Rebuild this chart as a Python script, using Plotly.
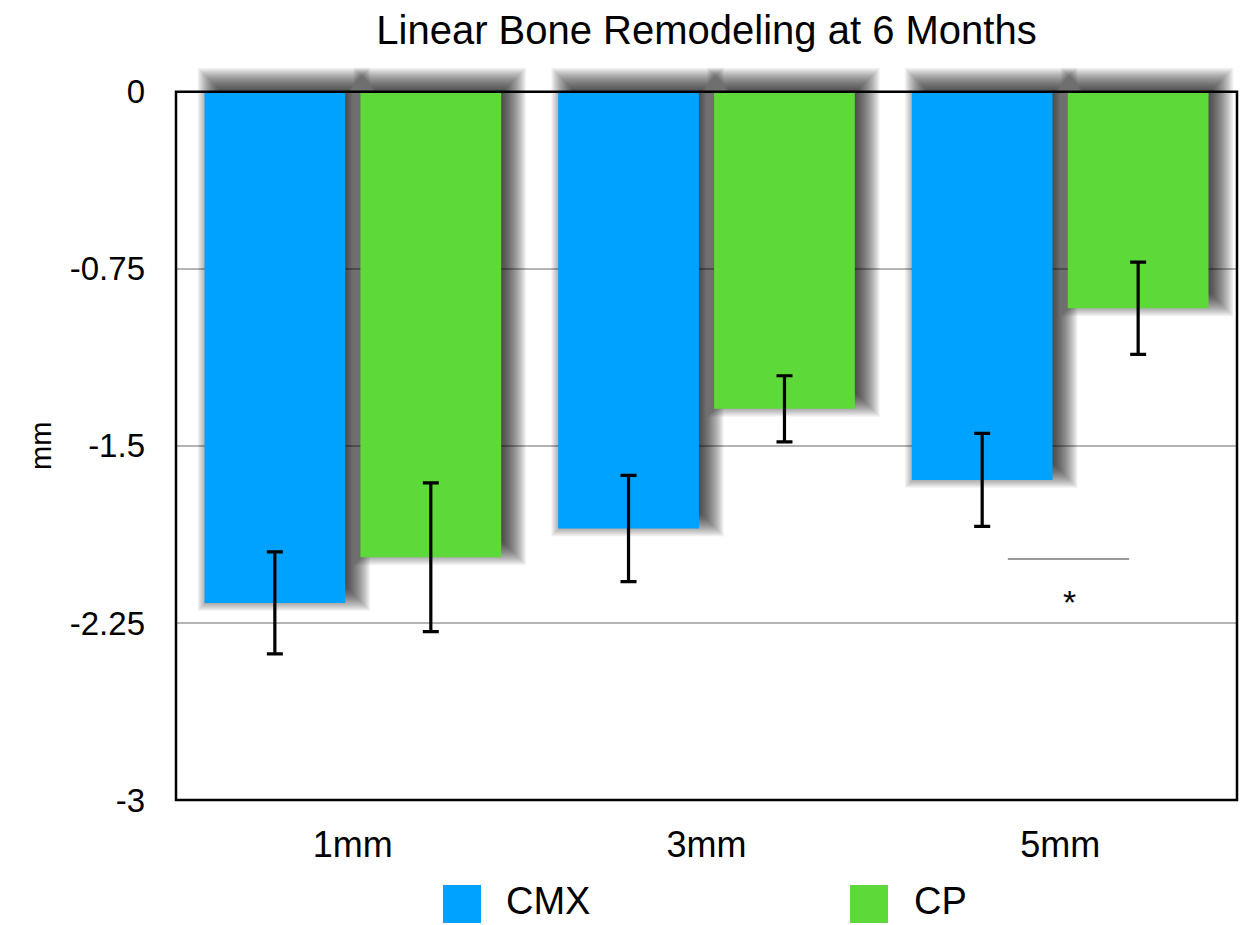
import plotly.graph_objects as go

# ---- data ----
categories = ["1mm", "3mm", "5mm"]
cmx_values = [-2.165, -1.850, -1.644]
cmx_errors = [0.216, 0.225, 0.197]
cp_values = [-1.972, -1.343, -0.917]
cp_errors = [0.315, 0.140, 0.195]
y_tickvals = [0, -0.75, -1.5, -2.25, -3]
y_ticktext = ["0", "-0.75", "-1.5", "-2.25", "-3"]

# ---- layout constants ----
W, H = 1240, 925
Y_MIN, Y_MAX = -3.0, 0.16
X_MIN, X_MAX = -0.5, 2.5
PX_PER_Y = 236.0
ML, MR, MB = 176, 3, 125
MT = int(round(92 - Y_MAX * PX_PER_Y))
PW = W - ML - MR
PH = H - MT - MB
PX_X = (X_MAX - X_MIN) / PW   # data units per pixel (x)
PX_Y = (Y_MAX - Y_MIN) / PH   # data units per pixel (y)

BAR_W = 0.398
GROUP_OFF = 0.2205
BLUE = "#00A2FF"
GREEN = "#5DD93A"
FONT = "Liberation Sans, Arial, Helvetica, sans-serif"

xs = list(range(len(categories)))
cmx_x = [i - GROUP_OFF for i in xs]
cp_x = [i + GROUP_OFF for i in xs]

fig = go.Figure()

# ---- soft drop shadows (stacked translucent bars, blurred falloff) ----
SH_DX, SH_DY, SH_R = 9, 8, 16
spreads = list(range(-SH_R, SH_R + 1))
all_x = cmx_x + cp_x
all_v = cmx_values + cp_values
for s in spreads:
    fig.add_trace(go.Bar(
        x=[x + SH_DX * PX_X for x in all_x],
        y=[v - 2 * s * PX_Y for v in all_v],
        base=[(s + SH_DY) * PX_Y] * len(all_v),
        width=BAR_W + 2 * s * PX_X,
        marker=dict(color="rgba(0,0,0,0.045)", line=dict(width=0)),
        hoverinfo="skip", showlegend=False,
    ))

# ---- main bars ----
err_style = dict(type="data", color="black", thickness=3.2, width=8)
fig.add_trace(go.Bar(
    name="CMX", x=cmx_x, y=cmx_values, width=BAR_W,
    marker=dict(color=BLUE, line=dict(width=0)),
    error_y=dict(array=cmx_errors, **err_style), showlegend=False,
))
fig.add_trace(go.Bar(
    name="CP", x=cp_x, y=cp_values, width=BAR_W,
    marker=dict(color=GREEN, line=dict(width=0)),
    error_y=dict(array=cp_errors, **err_style), showlegend=False,
))

# ---- significance marker ----
SIG_X = [1.852, 2.195]
SIG_Y = -1.979
fig.add_trace(go.Scatter(
    x=SIG_X, y=[SIG_Y, SIG_Y], mode="lines",
    line=dict(color="#9A9A9A", width=2), hoverinfo="skip", showlegend=False,
))

def px2paper_x(px):
    return (px - ML) / PW

def px2paper_y(py):
    return (H - MB - py) / PH

y0_paper = (0 - Y_MIN) / (Y_MAX - Y_MIN)

shapes = [
    dict(type="rect", xref="paper", yref="paper", x0=0, x1=1, y0=0, y1=y0_paper,
         line=dict(color="black", width=2.5), layer="above"),
    # legend swatches
    dict(type="rect", xref="paper", yref="paper",
         x0=px2paper_x(443), x1=px2paper_x(481), y0=px2paper_y(923), y1=px2paper_y(885),
         fillcolor=BLUE, line=dict(width=0)),
    dict(type="rect", xref="paper", yref="paper",
         x0=px2paper_x(850), x1=px2paper_x(888), y0=px2paper_y(923), y1=px2paper_y(885),
         fillcolor=GREEN, line=dict(width=0)),
]

annotations = [
    dict(text="*", x=2.025, y=-2.16, xref="x", yref="y", showarrow=False,
         yanchor="middle", font=dict(family=FONT, size=34, color="black")),
    dict(text="mm", textangle=-90, xref="paper", yref="paper",
         x=px2paper_x(23), y=px2paper_y(446), showarrow=False,
         font=dict(family=FONT, size=29, color="black")),
    dict(text="CMX", xref="paper", yref="paper", xanchor="left", yanchor="middle",
         x=px2paper_x(504), y=px2paper_y(901), showarrow=False,
         font=dict(family=FONT, size=38, color="black")),
    dict(text="CP", xref="paper", yref="paper", xanchor="left", yanchor="middle",
         x=px2paper_x(912), y=px2paper_y(901), showarrow=False,
         font=dict(family=FONT, size=38, color="black")),
]

fig.update_layout(
    width=W, height=H,
    margin=dict(l=ML, r=MR, t=MT, b=MB, pad=0),
    paper_bgcolor="white", plot_bgcolor="white",
    barmode="overlay",
    title=dict(text="Linear Bone Remodeling at 6 Months", x=0.5, xref="paper",
               y=1 - 30 / H, yref="container", yanchor="middle", xanchor="center",
               font=dict(family=FONT, size=40, color="black")),
    shapes=shapes,
    annotations=annotations,
    xaxis=dict(range=[X_MIN, X_MAX], tickvals=xs, ticktext=categories,
               showgrid=False, zeroline=False, showline=False, ticks="",
               ticklabelstandoff=20,
               tickfont=dict(family=FONT, size=36, color="black")),
    yaxis=dict(range=[Y_MIN, Y_MAX], tickvals=y_tickvals, ticktext=y_ticktext,
               showgrid=True, gridcolor="#B4B4B4", gridwidth=2,
               zeroline=False, showline=False, ticks="",
               ticklabelstandoff=30,
               tickfont=dict(family=FONT, size=33, color="black")),
    showlegend=False,
)

fig.write_html(
    "out.html",
    config={"displayModeBar": False},
    post_script="document.body.style.margin='0';document.body.style.overflow='hidden';",
)
